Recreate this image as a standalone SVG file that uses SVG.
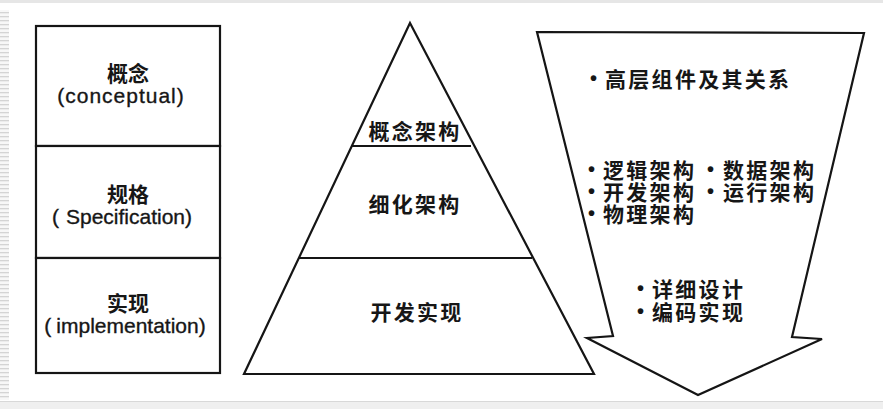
<svg xmlns="http://www.w3.org/2000/svg" width="883" height="409" viewBox="0 0 883 409">
<defs>
<style>
.ln{fill:#fff;stroke:#151515;stroke-width:2.2;stroke-linejoin:miter}
.dv{stroke:#151515;stroke-width:2.2;fill:none}
.cn{font-family:"Noto Sans CJK SC","Noto Sans",sans-serif;font-weight:700;fill:#161616}
.cw{font-size:21px;letter-spacing:2.3px}
.en{font-family:"Liberation Sans",Arial,sans-serif;font-size:21px;fill:#161616;stroke:#161616;stroke-width:0.35}
.bu{font-family:"Liberation Sans",Arial,sans-serif;font-weight:700;font-size:20px;fill:#161616}
</style>
<pattern id="stripes" width="9" height="4" patternUnits="userSpaceOnUse">
<rect width="9" height="4" fill="#f7f7f7"/>
<rect y="0" width="9" height="1.3" fill="#d4d4d4"/>
</pattern>
</defs>
<rect width="883" height="409" fill="#ffffff"/>
<g id="frame">
<rect x="0" y="0" width="883" height="3" fill="#e6e6e6"/>
<rect x="0" y="10" width="9" height="390" fill="url(#stripes)"/>
<rect x="0" y="401" width="883" height="8" fill="#efefef"/>
<line x1="0" y1="401.5" x2="883" y2="401.5" stroke="#d8d8d8" stroke-width="1"/>
</g>
<g id="connectors"/>
<g id="box-conceptual">
<rect class="ln" x="36" y="26" width="184" height="120"/>
<text class="cn" x="128" y="81" font-size="21" text-anchor="middle">概念</text>
<text class="en" x="121" y="103" text-anchor="middle" letter-spacing="1">(conceptual)</text>
</g>
<g id="box-specification">
<rect class="ln" x="36" y="146" width="184" height="112"/>
<text class="cn" x="128" y="202" font-size="21" text-anchor="middle">规格</text>
<text class="en" x="122" y="224" text-anchor="middle">(<tspan dx="7">Specification)</tspan></text>
</g>
<g id="box-implementation">
<rect class="ln" x="36" y="258" width="184" height="115"/>
<text class="cn" x="128" y="311" font-size="21" text-anchor="middle">实现</text>
<text class="en" x="125" y="333" text-anchor="middle">(<tspan dx="5">implementation)</tspan></text>
</g>
<g id="pyramid">
<polygon class="ln" points="410,23 594,374 244,374"/>
<line class="dv" x1="352" y1="146" x2="471" y2="146"/>
<line class="dv" x1="299" y1="258" x2="532" y2="258"/>
<text class="cn cw" x="415" y="139" text-anchor="middle">概念架构</text>
<text class="cn cw" x="415" y="212" text-anchor="middle">细化架构</text>
<text class="cn cw" x="417" y="320" text-anchor="middle">开发实现</text>
</g>
<g id="arrow">
<polygon class="ln" points="537,32 864,33 792,337 822,339 698,395 587,338 613,336"/>
<g class="cn cw">
<text x="605" y="87">高层组件及其关系</text>
<text x="603" y="178">逻辑架构</text>
<text x="723" y="178">数据架构</text>
<text x="603" y="200">开发架构</text>
<text x="723" y="200">运行架构</text>
<text x="603" y="222">物理架构</text>
<text x="652" y="297">详细设计</text>
<text x="652" y="320">编码实现</text>
</g>
<g class="bu">
<text x="590" y="85">•</text>
<text x="588" y="176">•</text>
<text x="707" y="176">•</text>
<text x="588" y="198">•</text>
<text x="707" y="198">•</text>
<text x="588" y="220">•</text>
<text x="637" y="295">•</text>
<text x="637" y="318">•</text>
</g>
</g>
</svg>
